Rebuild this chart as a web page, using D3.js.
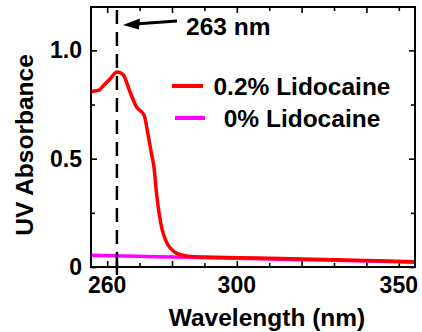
<!DOCTYPE html>
<html>
<head>
<meta charset="utf-8">
<script src="https://cdn.jsdelivr.net/npm/d3@7"></script>
<style>
  body { margin: 0; background: #fff; }
  svg { display: block; }
  text { font-family: "Liberation Sans", Arial, sans-serif; font-weight: bold; fill: #000; }
</style>
</head>
<body>
<div id="chart"></div>
<script>
// wavelength (nm) / absorbance
const wlLido = [255, 256, 257.5, 259, 261, 263, 264, 265, 267, 269, 271.4, 272.5, 273.7, 274.4, 275.3, 276, 277, 278, 279, 280, 281.5, 283.5, 285.6, 290, 300, 320, 340, 355];
const absLido = [0.808, 0.812, 0.816, 0.84, 0.87, 0.90, 0.897, 0.887, 0.81, 0.74, 0.70, 0.62, 0.52, 0.465, 0.33, 0.25, 0.17, 0.125, 0.097, 0.08, 0.063, 0.054, 0.048, 0.046, 0.043, 0.037, 0.030, 0.024];
const wlBlank = [255, 265, 275, 285, 300, 320, 340, 355];
const absBlank = [0.054, 0.051, 0.047, 0.045, 0.040, 0.034, 0.028, 0.022];

const seriesNames = ["0.2% Lidocaine", "0% Lidocaine"];
const seriesColors = ["#ff0000", "#ff00ff"];

const xMajor = [260, 280, 300, 320, 340];
const xMinor = [270, 290, 310, 330, 350];
const xLabels = [260, 300, 350];
const yMajor = [0, 0.5, 1.0];
const yMinor = [0.25, 0.75];
const peakWl = 263;

const W = 422, H = 332;
const margin = { top: 7, left: 91, bottom: 65, right: 7 };
const width = W - margin.left - margin.right;
const height = H - margin.top - margin.bottom;

const svg = d3.select("#chart").append("svg")
  .attr("width", W)
  .attr("height", H);

const g = svg.append("g").attr("transform", `translate(${margin.left},${margin.top})`);

const x = d3.scaleLinear().domain([255, 355]).range([0, width]);
const y = d3.scaleLinear().domain([0, 1.2]).range([height, 0]);

svg.append("defs").append("clipPath").attr("id", "clip")
  .append("rect").attr("width", width).attr("height", height);

// ticks, all pointing inward
function tickAxis(axisFn, vals, size, transform) {
  g.append("g")
    .attr("transform", transform)
    .call(axisFn.tickValues(vals).tickSize(size).tickFormat(""))
    .call(a => a.select(".domain").remove())
    .selectAll("line").attr("stroke", "#000").attr("stroke-width", 1.6);
}
tickAxis(d3.axisBottom(x), xMajor, -6, `translate(0,${height})`);
tickAxis(d3.axisBottom(x), xMinor, -4, `translate(0,${height})`);
tickAxis(d3.axisTop(x), xMajor, -6, "translate(0,0)");
tickAxis(d3.axisTop(x), xMinor, -4, "translate(0,0)");
tickAxis(d3.axisLeft(y), yMajor, -6, "translate(0,0)");
tickAxis(d3.axisLeft(y), yMinor, -4, "translate(0,0)");
tickAxis(d3.axisRight(y), yMajor, -6, `translate(${width},0)`);
tickAxis(d3.axisRight(y), yMinor, -4, `translate(${width},0)`);

// tick labels
g.selectAll(".xlab").data(xLabels).enter().append("text")
  .attr("class", "xlab")
  .attr("x", d => x(d))
  .attr("y", height + 26)
  .attr("text-anchor", "middle")
  .attr("font-size", 23)
  .text(d => d);

g.selectAll(".ylab").data(yMajor).enter().append("text")
  .attr("class", "ylab")
  .attr("x", -9)
  .attr("y", d => y(d) + 8)
  .attr("text-anchor", "end")
  .attr("font-size", 23)
  .text(d => d === 0 ? "0" : d3.format(".1f")(d));

// axis titles
svg.append("text")
  .attr("x", 267)
  .attr("y", 326)
  .attr("text-anchor", "middle")
  .attr("font-size", 24.5)
  .text("Wavelength (nm)");

svg.append("text")
  .attr("transform", "translate(33,145) rotate(-90)")
  .attr("text-anchor", "middle")
  .attr("font-size", 24.5)
  .text("UV Absorbance");

// data lines
const line = d3.line().x(d => x(d[0])).y(d => y(d[1])).curve(d3.curveMonotoneX);
const plot = g.append("g").attr("clip-path", "url(#clip)");

plot.append("path")
  .datum(d3.zip(wlBlank, absBlank))
  .attr("fill", "none")
  .attr("stroke", seriesColors[1])
  .attr("stroke-width", 3.5)
  .attr("d", line);

plot.append("path")
  .datum(d3.zip(wlLido, absLido))
  .attr("fill", "none")
  .attr("stroke", seriesColors[0])
  .attr("stroke-width", 3.5)
  .attr("stroke-linejoin", "round")
  .attr("d", line);

// peak marker
g.append("line")
  .attr("x1", x(peakWl)).attr("x2", x(peakWl))
  .attr("y1", 3).attr("y2", height)
  .attr("stroke", "#000")
  .attr("stroke-width", 2.5)
  .attr("stroke-dasharray", "14,8");
g.append("line")
  .attr("x1", x(peakWl)).attr("x2", x(peakWl))
  .attr("y1", height - 6).attr("y2", height + 8)
  .attr("stroke", "#000")
  .attr("stroke-width", 2.5);

// arrow + label (svg coords)
const tipX = margin.left + x(peakWl) + 6;
svg.append("line")
  .attr("x1", 177).attr("y1", 21)
  .attr("x2", tipX + 12).attr("y2", 24)
  .attr("stroke", "#000")
  .attr("stroke-width", 3);
svg.append("path")
  .attr("d", `M${tipX},25 L${tipX + 17},18.5 L${tipX + 16},29.5 Z`)
  .attr("fill", "#000");
svg.append("text")
  .attr("x", 186)
  .attr("y", 35)
  .attr("font-size", 24.5)
  .text(peakWl + " nm");

// legend
const legend = svg.selectAll(".legend")
  .data(seriesNames)
  .enter().append("g")
  .attr("class", "legend")
  .attr("transform", (d, i) => `translate(0,${i * 32})`);

legend.append("line")
  .attr("x1", (d, i) => i ? 175 : 172)
  .attr("x2", (d, i) => i ? 205 : 203)
  .attr("y1", 86).attr("y2", 86)
  .attr("stroke", (d, i) => seriesColors[i])
  .attr("stroke-width", 4);

legend.append("text")
  .attr("x", 302)
  .attr("y", 95)
  .attr("text-anchor", "middle")
  .attr("font-size", 24.5)
  .text(d => d);

// frame
g.append("rect")
  .attr("width", width)
  .attr("height", height)
  .attr("fill", "none")
  .attr("stroke", "#000")
  .attr("stroke-width", 2);
</script>
</body>
</html>
